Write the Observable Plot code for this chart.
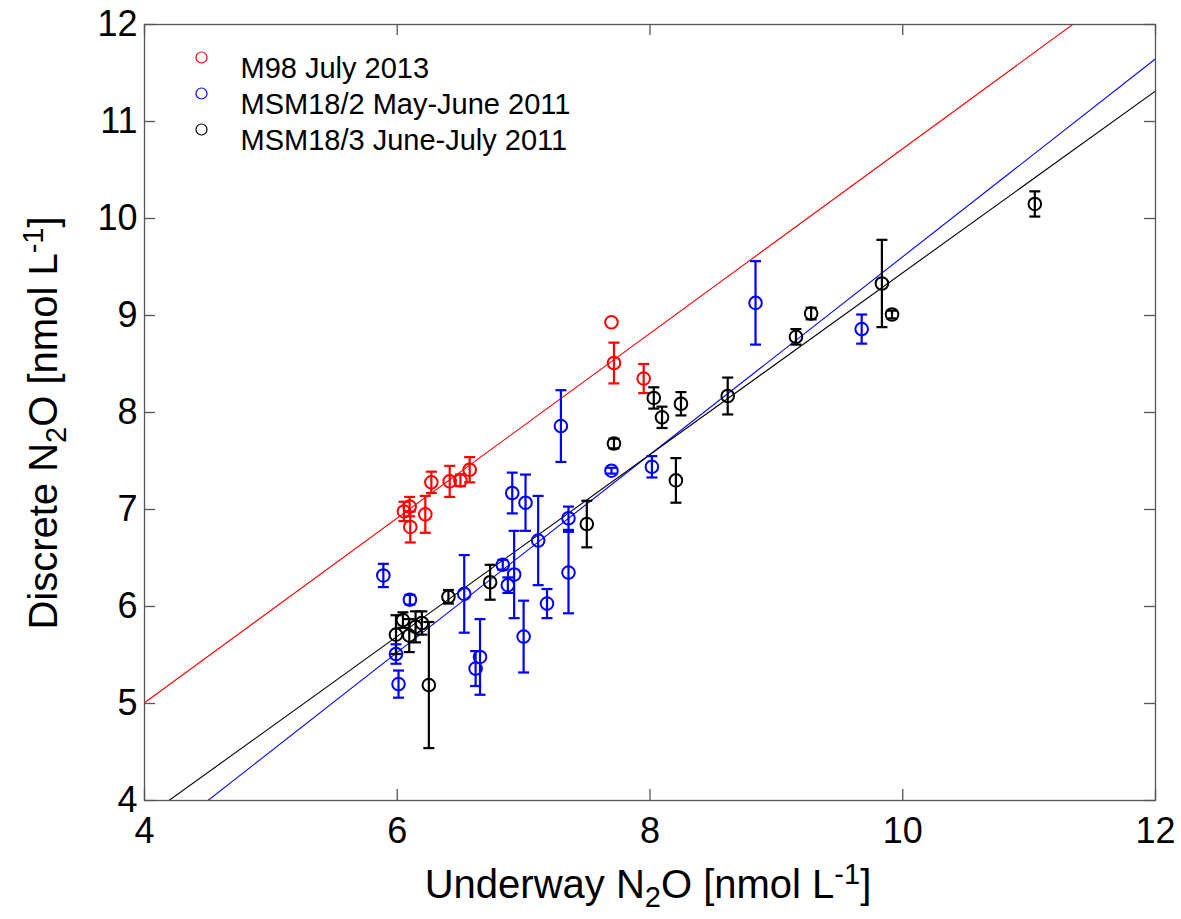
<!DOCTYPE html>
<html><head><meta charset="utf-8">
<script src="https://cdn.jsdelivr.net/npm/d3@7"></script>
<script src="https://cdn.jsdelivr.net/npm/@observablehq/plot@0.6"></script>
<style>
body{margin:0;background:#fff}
#chart{position:relative;width:1181px;height:919px}
</style>
</head><body><div id="chart"></div>
<script>
// ---- data ----
const seriesNames = ["M98 July 2013", "MSM18/2 May-June 2011", "MSM18/3 June-July 2011"];
const seriesColors = ["#ff0000", "#0000ff", "#000000"];

const m98X   = [6.053, 6.098, 6.103, 6.222, 6.27, 6.415, 6.50, 6.573, 7.695, 7.715, 7.95];
const m98Y   = [6.98, 7.03, 6.82, 6.95, 7.28, 7.29, 7.30, 7.41, 8.93, 8.51, 8.35];
const m98Err = [0.10, 0.10, 0.16, 0.19, 0.11, 0.16, 0.06, 0.13, 0, 0.21, 0.15];

const msm2X   = [5.89, 6.10, 5.99, 6.01, 6.53, 6.655, 6.62, 6.835, 6.875, 6.925, 7.00, 7.115, 7.185, 7.355, 7.295, 6.91, 7.015, 7.695, 8.015, 7.355, 8.835, 9.675];
const msm2Y   = [6.32, 6.07, 5.51, 5.20, 6.13, 5.48, 5.36, 6.43, 6.22, 6.33, 5.69, 6.68, 6.03, 6.35, 7.86, 7.17, 7.07, 7.40, 7.44, 6.91, 9.13, 8.86];
const msm2Err = [0.12, 0.05, 0.10, 0.14, 0.40, 0.39, 0.18, 0.05, 0.08, 0.45, 0.37, 0.46, 0.15, 0.42, 0.37, 0.21, 0.29, 0.03, 0.11, 0.12, 0.43, 0.15];

const msm3X   = [5.99, 6.045, 6.095, 6.145, 6.195, 6.25, 6.405, 6.735, 7.50, 7.715, 8.03, 8.095, 8.245, 8.205, 8.615, 9.155, 9.275, 9.835, 9.915, 11.045];
const msm3Y   = [5.71, 5.86, 5.70, 5.79, 5.83, 5.19, 6.10, 6.25, 6.85, 7.68, 8.15, 7.95, 8.09, 7.30, 8.17, 8.78, 9.02, 9.33, 9.01, 10.15];
const msm3Err = [0.20, 0.08, 0.17, 0.16, 0.12, 0.65, 0.07, 0.18, 0.24, 0.05, 0.11, 0.11, 0.12, 0.23, 0.19, 0.08, 0.06, 0.45, 0.04, 0.13];

// linear fits (intercept, slope) per series
const fitIntercept = [1.20, -0.590, 0.071];
const fitSlope     = [0.952, 1.0196, 0.937];

const xDomain = [4, 12];
const yDomain = [4, 12];
const xTicks = [4, 6, 8, 10, 12];
const yTicks = [4, 5, 6, 7, 8, 9, 10, 11, 12];

// ---- build rows ----
const groups = [[m98X, m98Y, m98Err], [msm2X, msm2Y, msm2Err], [msm3X, msm3Y, msm3Err]];
const rows = groups.flatMap(([xs, ys, es], i) => xs.map((x, j) => ({series: seriesNames[i], x, y: ys[j], err: es[j]})));
const errRows = rows.filter(d => d.err > 0);
const fitLines = seriesNames.map((s, i) => xDomain.map(x => ({series: s, x, y: fitIntercept[i] + fitSlope[i] * x})));

const W = 1181, H = 919;
const mL = 144, mR = 26, mT = 24, mB = 119;
const fw = W - mL - mR, fh = H - mT - mB;
const tickLen = 11;
const axisColor = "#555";

const capSymbol = {draw(ctx, size) { const w = Math.sqrt(size / Math.PI); ctx.moveTo(-w, 0); ctx.lineTo(w, 0); }};
const color = {domain: seriesNames, range: seriesColors};

const legendMarks = seriesNames.flatMap((name, i) => [
  Plot.dot([name], {frameAnchor: "top-left", dx: 57, dy: 33 + 36 * i, r: 5.5, stroke: seriesColors[i], strokeWidth: 1.2}),
  Plot.text([name], {frameAnchor: "top-left", dx: 96, dy: 33 + 36 * i, text: d => d, textAnchor: "start", fontSize: 29, fill: "#000"})
]);

const svg = Plot.plot({
  width: W, height: H,
  marginLeft: mL, marginRight: mR, marginTop: mT, marginBottom: mB,
  style: {fontFamily: "'Liberation Sans', Arial, sans-serif", fontSize: "36px", color: "#000", background: "#fff"},
  x: {domain: xDomain, ticks: xTicks},
  y: {domain: yDomain, ticks: yTicks},
  color,
  marks: [
    ...fitLines.map((line, i) => Plot.line(line, {x: "x", y: "y", stroke: seriesColors[i], strokeWidth: 1.1, clip: true})),
    Plot.ruleX(errRows, {x: "x", y1: d => d.y - d.err, y2: d => d.y + d.err, stroke: "series", strokeWidth: 2.2}),
    Plot.dot(errRows, {x: "x", y: d => d.y + d.err, symbol: capSymbol, r: 5.5, stroke: "series", strokeWidth: 2.2}),
    Plot.dot(errRows, {x: "x", y: d => d.y - d.err, symbol: capSymbol, r: 5.5, stroke: "series", strokeWidth: 2.2}),
    Plot.dot(rows, {x: "x", y: "y", r: 6.3, stroke: "series", strokeWidth: 2, fill: "none"}),
    Plot.frame({stroke: axisColor, strokeWidth: 1.3}),
    Plot.tickX(xTicks, {x: d => d, insetTop: fh - tickLen, stroke: axisColor, strokeWidth: 1.3}),
    Plot.tickX(xTicks, {x: d => d, insetBottom: fh - tickLen, stroke: axisColor, strokeWidth: 1.3}),
    Plot.tickY(yTicks, {y: d => d, insetRight: fw - tickLen, stroke: axisColor, strokeWidth: 1.3}),
    Plot.tickY(yTicks, {y: d => d, insetLeft: fw - tickLen, stroke: axisColor, strokeWidth: 1.3}),
    Plot.axisX({ticks: xTicks, tickSize: 0, tickPadding: 17, label: null, fontSize: 36, tickFormat: d => String(d)}),
    Plot.axisY({ticks: yTicks, tickSize: 0, tickPadding: 7, label: null, fontSize: 36, tickFormat: d => String(d)}),
    ...legendMarks
  ]
});

// axis titles with sub/superscripts
const s = d3.select(svg);
const xl = s.append("text").attr("x", 648).attr("y", 898).attr("text-anchor", "middle")
  .style("font-family", "'Liberation Sans', Arial, sans-serif").style("font-size", "40px").attr("fill", "#000");
xl.append("tspan").text("Underway N");
xl.append("tspan").attr("dy", 9).style("font-size", "29px").text("2");
xl.append("tspan").attr("dy", -9).text("O [nmol L");
xl.append("tspan").attr("dy", -14).style("font-size", "29px").text("-1");
xl.append("tspan").attr("dy", 14).text("]");

const yl = s.append("text").attr("transform", "translate(57,423) rotate(-90)").attr("text-anchor", "middle")
  .style("font-family", "'Liberation Sans', Arial, sans-serif").style("font-size", "40px").attr("fill", "#000");
yl.append("tspan").text("Discrete N");
yl.append("tspan").attr("dy", 9).style("font-size", "29px").text("2");
yl.append("tspan").attr("dy", -9).text("O [nmol L");
yl.append("tspan").attr("dy", -14).style("font-size", "29px").text("-1");
yl.append("tspan").attr("dy", 14).text("]");

document.getElementById("chart").appendChild(svg);
</script>
</body></html>
